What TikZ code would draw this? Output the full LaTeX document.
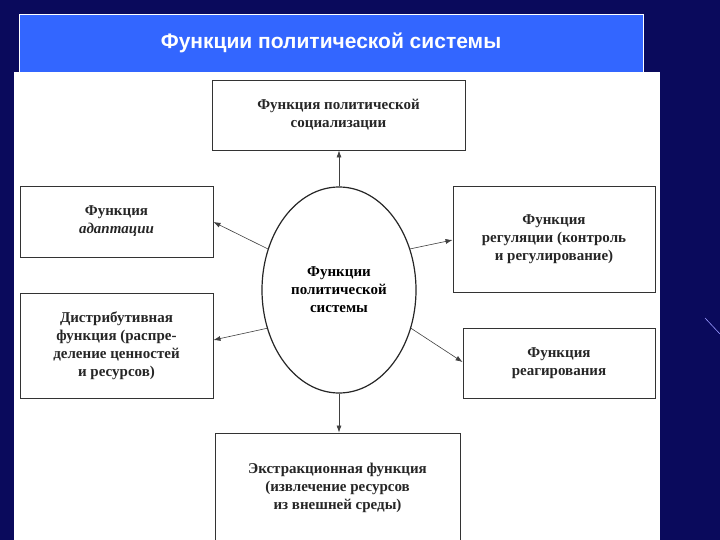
\documentclass[tikz,border=0pt]{standalone}
\usepackage{fontspec}
\setmainfont{Liberation Serif}
\newfontfamily\titlefont{Liberation Sans}
\usetikzlibrary{arrows.meta,shapes.geometric}
\definecolor{navy}{HTML}{0A0A5C}
\definecolor{titleblue}{HTML}{3366FF}
\tikzset{
  fbox/.style={draw=black!80, line width=0.9pt, fill=white, align=center, font=\fontsize{15}{18}\selectfont\bfseries, text=black!85},
  conn/.style={draw=black!75, line width=0.6pt, -{Latex[length=7pt,width=5pt]}},
}
\begin{document}
\begin{tikzpicture}[x=1pt,y=-1pt]
\useasboundingbox (0,0) rectangle (720,540);
\fill[navy] (0,0) rectangle (720,540);
\draw[blue!40!white, line width=0.6pt] (705,318) -- (720,334);
\node[draw=white, line width=0.6pt, fill=titleblue, minimum width=624pt, minimum height=58pt, inner sep=0pt, text=white, font=\titlefont\fontsize{21}{24}\selectfont\bfseries] (title) at (331,43) {Функции политической системы};
\fill[white] (14,72) rectangle (660,540);
\node[fbox, minimum width=253pt, minimum height=70pt] (soc) at (338.5,115) {Функция политической\\социализации};
\node[fbox, minimum width=193pt, minimum height=71pt] (adapt) at (116.5,221.5) {Функция\\\itshape адаптации};
\node[fbox, minimum width=193pt, minimum height=105pt] (distr) at (116.5,345.5) {Дистрибутивная\\функция (распре-\\деление ценностей\\и ресурсов)};
\node[fbox, minimum width=202pt, minimum height=106pt] (reg) at (554,239) {Функция\\регуляции (контроль\\и регулирование)};
\node[fbox, minimum width=192pt, minimum height=70pt] (reag) at (559,363) {Функция\\реагирования};
\node[fbox, minimum width=245pt, minimum height=110pt] (extr) at (337.5,488) {Экстракционная функция\\(извлечение ресурсов\\из внешней среды)};
\node[draw=black!85, line width=1.2pt, ellipse, minimum width=154pt, minimum height=206pt, inner sep=0pt, align=center, font=\fontsize{15}{18}\selectfont\bfseries] (c) at (339,290) {Функции\\политической\\системы};
\draw[conn] (c.north) -- (c.north |- soc.south);
\draw[conn] (c.150) -- (adapt.east |- 0,222);
\draw[conn] (c.208) -- (distr.east |- 0,340);
\draw[conn] (c.30) -- (reg.west |- 0,240);
\draw[conn] (c.332) -- (reag.west |- 0,362);
\draw[conn] (c.south) -- (c.south |- extr.north);
\end{tikzpicture}
\end{document}
